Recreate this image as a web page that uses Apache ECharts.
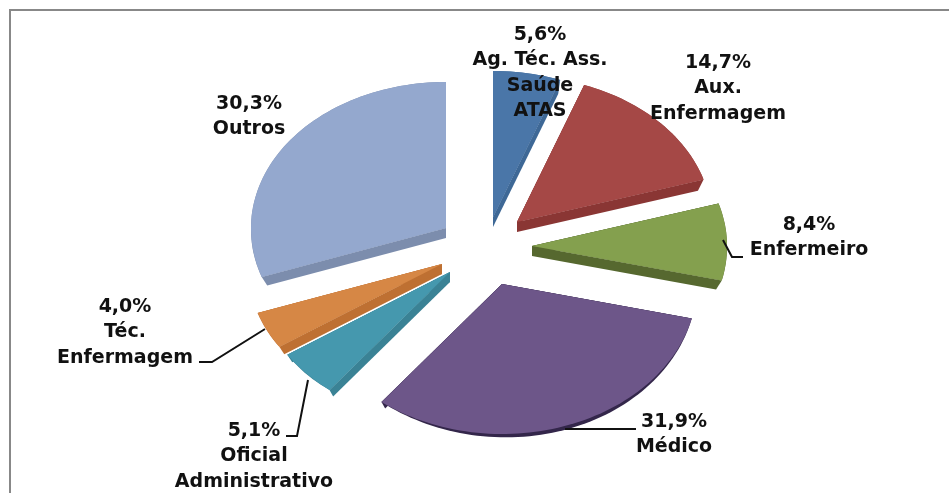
<!DOCTYPE html>
<html>
<head>
<meta charset="utf-8">
<style>
  html, body { margin: 0; padding: 0; background: #fff; }
  #main { width: 949px; height: 493px; }
</style>
<script src="https://cdn.jsdelivr.net/npm/echarts@6/dist/echarts.min.js"></script>
</head>
<body>
<div id="main"></div>
<script>
// valores, sentido horario a partir do topo
const categories = ['Ag. Téc. Ass.\nSaúde\nATAS', 'Aux.\nEnfermagem', 'Enfermeiro', 'Médico', 'Oficial\nAdministrativo', 'Téc.\nEnfermagem', 'Outros'];
const shares = [5.6, 14.7, 8.4, 31.9, 5.1, 4.0, 30.3];

const topColors = ['#4a76a8', '#a54846', '#84a04e', '#6d5689', '#4598ae', '#d68745', '#94a8ce'];
const wallColors = ['#3e6896', '#8a3634', '#56682f', '#33264a', '#3a8295', '#be7032', '#7c8dad'];

// layout
const CX = 478;
const CY = 250;
const RX = 195;
const RY_TOP = 146;
const RY_BOTTOM = 150;
const DEPTH = 10;
const LIP = 6;
const LINE_H = 25.5;
// deslocamento de cada fatia (explode) em px
const explode = [[15, -33], [39, -28], [54, -4], [24, 34], [-28, 22], [-36, 14], [-32, -22]];
// centro do rotulo: x, y da primeira linha
const labelAnchors = [[540, 35], [718, 63], [809, 225], [674, 422], [254, 431], [125, 307], [249, 104]];
const leaderLines = [null, null,
  [[723, 240], [732, 257], [743, 257]],
  [[565, 429], [636, 429]],
  [[308, 380], [297, 436], [286, 436]],
  [[265, 329], [212, 362], [199, 362]],
  null];

const total = shares.reduce((a, b) => a + b, 0);

const renderSlice = (params, api) => {
  const i = params.dataIndex;
  const before = shares.slice(0, i).reduce((a, b) => a + b, 0);
  const start = before / total * Math.PI * 2;
  const end = start + api.value(0) / total * Math.PI * 2;
  const tip = [CX + explode[i][0], CY + explode[i][1]];

  const arc = [];
  const lip = [];
  const steps = Math.ceil((end - start) / 0.03);
  // borda fina no arco: so aparece nas fatias grandes viradas para baixo
  const lipSize = LIP * Math.min(1, (end - start) / Math.PI);
  for (let s = 0; s <= steps; s++) {
    const t = start + (end - start) * s / steps;
    const c = Math.cos(t);
    const p = [tip[0] + RX * Math.sin(t), tip[1] - (c > 0 ? RY_TOP : RY_BOTTOM) * c];
    arc.push(p);
    lip.push([p[0], p[1] + (c < 0 ? lipSize * Math.sin(Math.PI * s / steps) : 0)]);
  }

  // parede do corte radial, afina um pouco na ponta de fora
  const wall = outer => {
    const bx = tip[0] + (outer[0] - tip[0]) * 0.97;
    const by = tip[1] + (outer[1] - tip[1]) * 0.97;
    return {
      type: 'polygon',
      shape: { points: [tip, outer, [bx, by + DEPTH], [tip[0], tip[1] + DEPTH]] },
      style: { fill: wallColors[i] }
    };
  };

  const children = [
    wall(arc[0]),
    wall(arc[arc.length - 1]),
    { type: 'polygon', shape: { points: [tip].concat(lip) }, style: { fill: wallColors[i] } },
    { type: 'polygon', shape: { points: [tip].concat(arc) }, style: { fill: topColors[i] } }
  ];

  if (leaderLines[i]) {
    children.push({
      type: 'polyline',
      shape: { points: leaderLines[i] },
      style: { stroke: '#111', lineWidth: 2, fill: null }
    });
  }
  children.push({
    type: 'text',
    x: labelAnchors[i][0],
    y: labelAnchors[i][1] - LINE_H / 2,
    style: {
      text: api.value(0).toFixed(1).replace('.', ',') + '%\n' + categories[i],
      fill: '#111',
      font: 'bold 19px "DejaVu Sans"',
      align: 'center',
      verticalAlign: 'top',
      lineHeight: LINE_H
    }
  });
  return { type: 'group', children };
};

const chart = echarts.init(document.getElementById('main'), null, { renderer: 'canvas' });
chart.setOption({
  animation: false,
  backgroundColor: '#fff',
  graphic: [
    {
      type: 'polyline',
      silent: true,
      shape: { points: [[10, 493], [10, 10], [949, 10]] },
      style: { stroke: '#888', lineWidth: 2, fill: null }
    }
  ],
  series: [
    {
      type: 'custom',
      coordinateSystem: 'none',
      silent: true,
      renderItem: renderSlice,
      data: shares.map(v => [v])
    }
  ]
});
</script>
</body>
</html>
